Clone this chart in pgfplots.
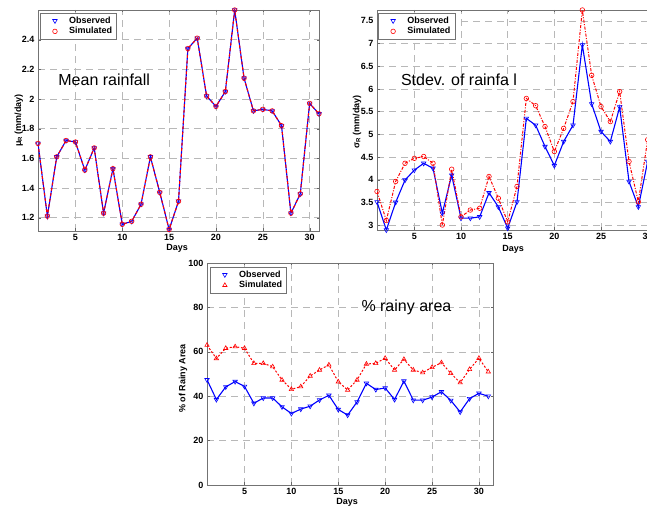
\documentclass[border=0pt]{standalone}
\usepackage{fontspec}
\setmainfont{Liberation Sans}
\usepackage{pgfplots}
\usepackage{pgfplotstable}
\pgfplotsset{compat=1.18}

\pgfplotstableread{
d obs sim
1 1.70 1.70
2 1.21 1.21
3 1.61 1.61
4 1.72 1.72
5 1.71 1.71
6 1.52 1.52
7 1.67 1.67
8 1.23 1.23
9 1.53 1.53
10 1.155 1.155
11 1.175 1.175
12 1.29 1.29
13 1.61 1.61
14 1.37 1.37
15 1.12 1.12
16 1.31 1.31
17 2.34 2.34
18 2.41 2.41
19 2.02 2.02
20 1.95 1.95
21 2.05 2.05
22 2.60 2.60
23 2.14 2.14
24 1.92 1.92
25 1.93 1.93
26 1.92 1.92
27 1.82 1.82
28 1.23 1.23
29 1.36 1.36
30 1.97 1.97
31 1.90 1.90
}\meantab

\pgfplotstableread{
d obs sim
1 3.51 3.74
2 2.89 3.10
3 3.50 3.96
4 3.99 4.36
5 4.21 4.47
6 4.36 4.51
7 4.25 4.36
8 3.26 3.00
9 4.10 4.23
10 3.15 3.18
11 3.15 3.33
12 3.18 3.37
13 3.71 4.07
14 3.40 3.59
15 2.93 3.07
16 3.51 3.85
17 5.35 5.79
18 5.20 5.63
19 4.73 5.17
20 4.31 4.62
21 4.84 5.13
22 5.20 5.72
23 6.97 7.74
24 5.67 6.30
25 5.06 5.61
26 4.84 5.28
27 5.60 5.94
28 3.96 4.40
29 3.40 3.51
30 4.40 4.88
31 4.70 5.00
}\stdtab

\pgfplotstableread{
d obs sim
1 47.4 63.0
2 38.5 57.0
3 44.2 61.6
4 46.6 62.3
5 44.4 61.6
6 36.8 54.8
7 39.2 54.8
8 39.2 53.3
9 35.2 47.3
10 32.2 43.1
11 34.2 44.3
12 35.5 49.1
13 38.3 51.8
14 40.4 54.1
15 34.0 46.5
16 31.5 42.8
17 37.4 47.3
18 45.8 54.5
19 43.0 54.8
20 43.7 57.1
21 38.5 51.8
22 46.8 56.6
23 38.2 51.8
24 38.2 50.6
25 39.6 53.0
26 42.0 55.1
27 38.1 50.3
28 32.9 46.1
29 38.9 52.1
30 41.3 57.1
31 40.0 51.0
}\areatab

\definecolor{mblue}{RGB}{0,0,255}
\definecolor{mred}{RGB}{255,0,0}

\pgfplotsset{
  myax/.style={
    scale only axis,
    xmin=1, xmax=31,
    xtick={5,10,...,30},
    grid=major,
    major grid style={black!28, dash pattern=on 7pt off 5pt, line width=0.5pt},
    axis line style={black!55, line width=0.6pt},
    tick align=inside,
    major tick length=2.5pt,
    tick style={black!60},
    tick label style={font=\fontsize{9}{10}\selectfont\bfseries},
    /pgf/number format/assume math mode=true,
    label style={font=\fontsize{9}{10}\selectfont\bfseries},
    legend style={draw=black!55, line width=0.5pt, fill=white,
      font=\fontsize{9}{10}\selectfont\bfseries, inner xsep=2.5pt, inner ysep=1.5pt,
      row sep=-1.5pt, column sep=5pt, cells={anchor=west}},
    legend cell align=left,
    legend image code/.code={\path (0pt,0pt) (19pt,0pt); \draw[##1] plot coordinates {(12pt,0pt)};},
    axis background/.style={fill=white},
  },
}

\begin{document}
\begin{tikzpicture}
\useasboundingbox (0pt,0pt) rectangle (647pt,510pt);
\clip (0pt,0pt) rectangle (647pt,510pt);

% ---------- Top-left: mean rainfall ----------
\begin{axis}[myax,
  at={(38pt,279pt)}, anchor=south west,
  width=281pt, height=221pt,
  ymin=1.11, ymax=2.6,
  ytick={1.2,1.4,...,2.41},
  xlabel={Days},
  ylabel={μ\textsubscript{R} (mm/day)},
  xlabel style={at={(axis description cs:0.495,-0.08)}, anchor=center},
  ylabel style={at={(axis description cs:-0.068,0.5)}, anchor=center},
  legend style={at={(axis description cs:0.007,0.986)}, anchor=north west},
]
\addplot[mblue, line width=1.1pt, mark=triangle, mark size=2.6pt,
  mark options={solid, rotate=180, line width=0.6pt}, forget plot]
  table[x=d, y=obs] {\meantab};
\addplot[mred, line width=1.1pt, dash pattern=on 3pt off 2.5pt, mark=o, mark size=2.3pt,
  mark options={solid, line width=0.6pt}, forget plot]
  table[x=d, y=sim] {\meantab};
\addlegendimage{only marks, mblue, mark=triangle, mark size=2.6pt, mark options={rotate=180, line width=0.6pt}}
\addlegendentry{Observed}
\addlegendimage{only marks, mred, mark=o, mark size=2.3pt, mark options={line width=0.6pt}}
\addlegendentry{Simulated}
\node[anchor=west, font=\fontsize{16}{18}\selectfont] at (axis cs:2.8,2.13) {Mean rainfall};
\end{axis}

% ---------- Top-right: stdev ----------
\begin{axis}[myax,
  at={(377pt,280pt)}, anchor=south west,
  width=280pt, height=220pt,
  ymin=2.89, ymax=7.74,
  ytick={3,3.5,...,7.6},
  xlabel={Days},
  ylabel={σ\textsubscript{R} (mm/day)},
  xlabel style={at={(axis description cs:0.486,-0.086)}, anchor=center},
  ylabel style={at={(axis description cs:-0.071,0.49)}, anchor=center},
  legend style={at={(axis description cs:0.004,0.986)}, anchor=north west},
]
\addplot[mblue, line width=1.1pt, mark=triangle, mark size=2.6pt,
  mark options={solid, rotate=180, line width=0.6pt}, forget plot]
  table[x=d, y=obs] {\stdtab};
\addplot[mred, line width=1.0pt, dash pattern=on 3pt off 1.5pt on 1pt off 1.5pt, mark=o, mark size=2.3pt,
  mark options={solid, line width=0.6pt}, forget plot]
  table[x=d, y=sim] {\stdtab};
\addlegendimage{only marks, mblue, mark=triangle, mark size=2.6pt, mark options={rotate=180, line width=0.6pt}}
\addlegendentry{Observed}
\addlegendimage{only marks, mred, mark=o, mark size=2.3pt, mark options={line width=0.6pt}}
\addlegendentry{Simulated}
\node[anchor=west, font=\fontsize{16}{18}\selectfont] at (axis cs:3.2,6.2) {Stdev. of rainfa l};
\end{axis}

% ---------- Bottom: rainy area ----------
\begin{axis}[myax,
  at={(207pt,25pt)}, anchor=south west,
  width=286pt, height=222pt,
  xmax=31.5,
  ymin=0, ymax=100,
  ytick={0,20,...,100},
  xlabel={Days},
  ylabel={\% of Rainy Area},
  xlabel style={at={(axis description cs:0.49,-0.08)}, anchor=center},
  ylabel style={at={(axis description cs:-0.084,0.48)}, anchor=center},
  legend style={at={(axis description cs:0.01,0.982)}, anchor=north west},
]
\addplot[mblue, line width=1.1pt, mark=triangle, mark size=2.6pt,
  mark options={solid, rotate=180, line width=0.6pt}, forget plot]
  table[x=d, y=obs] {\areatab};
\addplot[mred, line width=1.0pt, dash pattern=on 2pt off 1.8pt, mark=triangle, mark size=2.5pt,
  mark options={solid, line width=0.6pt}, forget plot]
  table[x=d, y=sim] {\areatab};
\addlegendimage{only marks, mblue, mark=triangle, mark size=2.6pt, mark options={rotate=180, line width=0.6pt}}
\addlegendentry{Observed}
\addlegendimage{only marks, mred, mark=triangle, mark size=2.5pt, mark options={line width=0.6pt}}
\addlegendentry{Simulated}
\node[anchor=west, font=\fontsize{16}{18}\selectfont] at (axis cs:17.1,80.2) {\% rainy area};
\end{axis}
\end{tikzpicture}
\end{document}
